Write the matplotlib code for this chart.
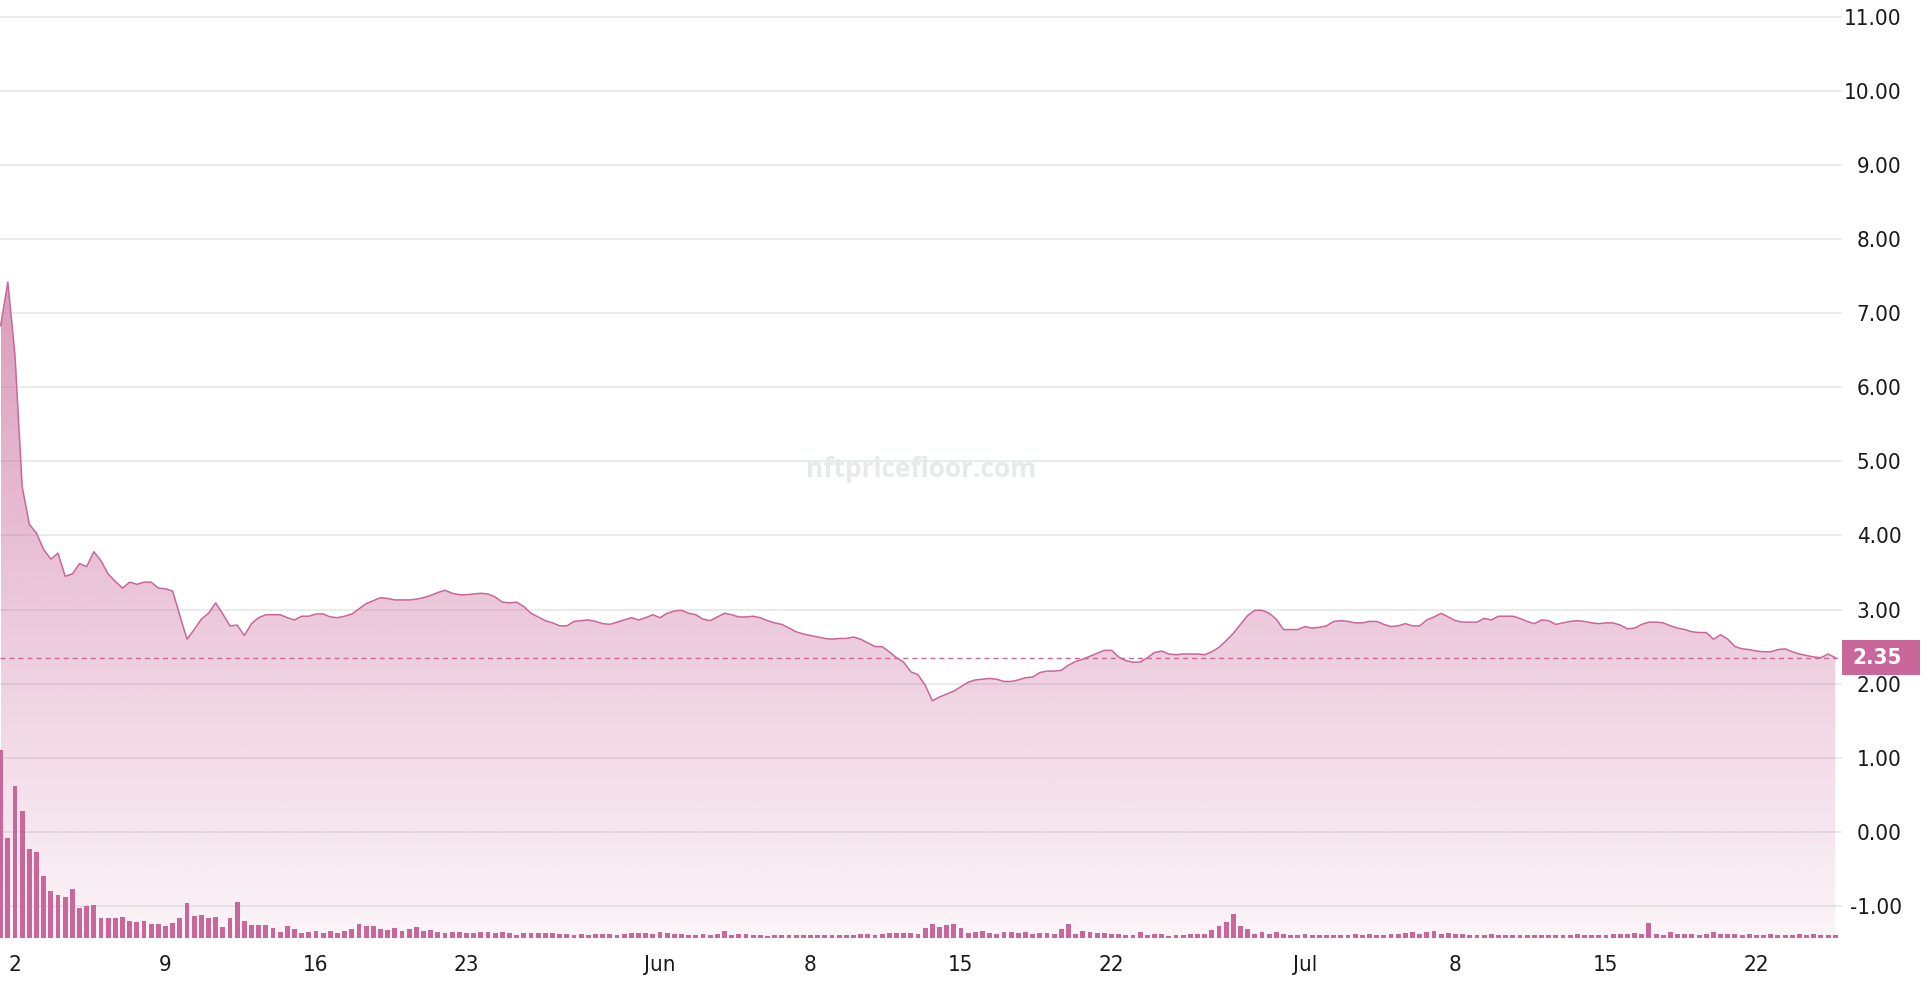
import numpy as np
import pandas as pd
import matplotlib
matplotlib.use('Agg')
import matplotlib.pyplot as plt
import matplotlib.dates as mdates
import matplotlib.transforms as mtransforms
from matplotlib.colors import to_rgb
from matplotlib.patches import Rectangle
from matplotlib.ticker import FixedLocator, FuncFormatter

# floor price, one value every 8 hours
start = '2023-05-01 08:00'
step = '8h'
price = [
    6.83, 7.42, 6.43, 4.66, 4.15, 4.03, 3.81, 3.68, 3.76, 3.45,
    3.48, 3.62, 3.58, 3.78, 3.66, 3.48, 3.38, 3.29, 3.37, 3.34,
    3.37, 3.37, 3.29, 3.28, 3.25, 2.92, 2.60, 2.73, 2.87, 2.95,
    3.09, 2.94, 2.78, 2.79, 2.65, 2.81, 2.89, 2.93, 2.93, 2.93,
    2.89, 2.86, 2.91, 2.91, 2.94, 2.94, 2.90, 2.89, 2.91, 2.94,
    3.01, 3.08, 3.12, 3.16, 3.15, 3.13, 3.13, 3.13, 3.14, 3.16,
    3.19, 3.23, 3.26, 3.22, 3.20, 3.20, 3.21, 3.22, 3.21, 3.17,
    3.10, 3.09, 3.10, 3.04, 2.95, 2.90, 2.85, 2.82, 2.78, 2.78,
    2.84, 2.85, 2.86, 2.84, 2.81, 2.80, 2.83, 2.86, 2.89, 2.86,
    2.89, 2.93, 2.89, 2.95, 2.98, 2.99, 2.95, 2.93, 2.87, 2.85,
    2.90, 2.95, 2.93, 2.90, 2.90, 2.91, 2.89, 2.85, 2.82, 2.80,
    2.75, 2.70, 2.67, 2.65, 2.63, 2.61, 2.60, 2.61, 2.61, 2.63,
    2.60, 2.55, 2.50, 2.50, 2.43, 2.35, 2.29, 2.16, 2.12, 1.98,
    1.77, 1.82, 1.86, 1.90, 1.96, 2.02, 2.05, 2.06, 2.07, 2.06,
    2.03, 2.03, 2.05, 2.08, 2.09, 2.15, 2.17, 2.17, 2.18, 2.25,
    2.30, 2.33, 2.37, 2.41, 2.45, 2.45, 2.36, 2.31, 2.29, 2.29,
    2.35, 2.42, 2.44, 2.40, 2.39, 2.40, 2.40, 2.40, 2.39, 2.43,
    2.49, 2.58, 2.68, 2.80, 2.92, 2.99, 2.99, 2.95, 2.87, 2.73,
    2.73, 2.73, 2.77, 2.75, 2.76, 2.78, 2.84, 2.85, 2.84, 2.82,
    2.82, 2.84, 2.84, 2.80, 2.77, 2.78, 2.81, 2.78, 2.78, 2.86,
    2.90, 2.95, 2.90, 2.85, 2.83, 2.83, 2.83, 2.88, 2.86, 2.91,
    2.91, 2.91, 2.88, 2.84, 2.81, 2.86, 2.85, 2.80, 2.82, 2.84,
    2.85, 2.84, 2.82, 2.81, 2.82, 2.82, 2.79, 2.74, 2.75, 2.80,
    2.83, 2.83, 2.82, 2.78, 2.75, 2.73, 2.70, 2.69, 2.69, 2.60,
    2.66, 2.60, 2.50, 2.47, 2.46, 2.44, 2.43, 2.43, 2.46, 2.47,
    2.43, 2.40, 2.38, 2.36, 2.35, 2.40, 2.35,
]
volume = [
    187, 100, 152, 127, 89, 86, 62, 47, 43, 41,
    49, 30, 32, 33, 20, 20, 20, 21, 17, 16,
    17, 14, 14, 12, 15, 20, 35, 22, 23, 20,
    21, 11, 20, 36, 17, 13, 13, 13, 10, 6,
    12, 9, 5, 6, 7, 5, 7, 5, 7, 9,
    14, 12, 12, 9, 8, 10, 7, 9, 11, 7,
    8, 6, 5, 6, 6, 5, 5, 6, 6, 5,
    6, 5, 3, 5, 5, 5, 5, 5, 4, 4,
    3, 4, 3, 4, 4, 4, 3, 4, 5, 5,
    5, 4, 6, 5, 4, 4, 3, 3, 4, 3,
    4, 7, 3, 4, 4, 3, 3, 2, 3, 3,
    3, 3, 3, 3, 3, 3, 3, 3, 3, 3,
    4, 4, 3, 4, 5, 5, 5, 5, 4, 10,
    14, 11, 13, 14, 10, 5, 6, 7, 5, 4,
    6, 6, 5, 6, 4, 5, 5, 4, 9, 14,
    4, 7, 6, 5, 5, 4, 4, 3, 3, 6,
    3, 4, 4, 2, 3, 3, 4, 4, 4, 8,
    12, 16, 24, 12, 9, 4, 6, 4, 6, 4,
    3, 3, 4, 3, 3, 3, 3, 3, 3, 4,
    3, 4, 3, 3, 4, 4, 5, 6, 4, 6,
    7, 4, 5, 4, 4, 3, 3, 3, 4, 3,
    3, 3, 3, 3, 3, 3, 3, 3, 3, 3,
    4, 3, 3, 3, 3, 4, 4, 4, 5, 4,
    15, 4, 3, 6, 4, 4, 4, 3, 4, 6,
    4, 4, 4, 3, 4, 3, 3, 4, 3, 3,
    3, 4, 3, 4, 3, 3, 3,
]
current_price = 2.35

tick_dates = ['2023-05-02', '2023-05-09', '2023-05-16', '2023-05-23',
              '2023-06-01', '2023-06-08', '2023-06-15', '2023-06-22',
              '2023-07-01', '2023-07-08', '2023-07-15', '2023-07-22']
tick_labels = ['2', '9', '16', '23', 'Jun', '8', '15', '22',
               'Jul', '8', '15', '22']
y_ticks = list(range(-1, 12))

PINK = '#c9679a'
GRID = '#e6eaea'
TEXT = '#191919'

plt.rcParams['font.family'] = ['DejaVu Sans']
plt.rcParams['font.stretch'] = 'condensed'

times = pd.date_range(start, periods=len(price), freq=step)
xs = mdates.date2num(times)

fig = plt.figure(figsize=(19.32, 9.88), dpi=100)
ax = fig.add_axes([0, 0.0506, 0.9534, 0.9494])
# volume bars on their own scale, taking the bottom fifth
ax2 = ax.twinx()

ymin, ymax = -1.432, 11.225
days_per_px = 1 / 21.5
x_left = mdates.date2num(pd.Timestamp(tick_dates[0])) - 15 * days_per_px
x_right = x_left + 1842 * days_per_px

# gradient area under the line
top = max(price)
alpha = np.linspace(0.07, 0.65, 256)
rgba = np.zeros((256, 1, 4))
rgba[..., :3] = to_rgb(PINK)
rgba[..., 3] = alpha[:, None]
im = ax.imshow(rgba, extent=[xs[0], xs[-1], ymin, top], origin='lower',
               aspect='auto', interpolation='bilinear', zorder=1)
area = ax.fill_between(xs, price, ymin, color='none', lw=0)
im.set_clip_path(area.get_paths()[0], ax.transData)

ax.plot(xs, price, color=PINK, lw=1.1, zorder=3, solid_joinstyle='round')
ax.axhline(current_price, color=PINK, lw=1.0, ls=(0, (3.6, 2.9)), zorder=3)

ax.text(0.5, 0.5, 'nftpricefloor.com', transform=ax.transAxes,
        ha='center', va='center', fontsize=19, fontweight='bold',
        color='#e6eaea', family='Open Sans', stretch='normal', zorder=2)

ax.set_xlim(x_left, x_right)
ax.set_ylim(ymin, ymax)

ax.yaxis.set_major_locator(FixedLocator(y_ticks))
ax.yaxis.set_major_formatter(FuncFormatter(lambda v, p: f'{v:.2f}'))
ax.yaxis.tick_right()
ax.tick_params(axis='y', length=0, pad=43, labelsize=16, labelcolor=TEXT,
               labelleft=False, labelright=True)
for tick in ax.yaxis.get_major_ticks():
    tick.label2.set_horizontalalignment('right')

ax.set_xticks(mdates.date2num(pd.to_datetime(tick_dates)))
ax.set_xticklabels(tick_labels)
ax.tick_params(axis='x', length=0, pad=12, labelsize=16, labelcolor=TEXT)

ax.grid(axis='y', color=GRID, lw=1.3)
ax.set_axisbelow(True)
for s in ax.spines.values():
    s.set_visible(False)

ax2.bar(xs, volume, width=0.23, color=PINK, lw=0, zorder=2)
ax2.set_ylim(0, max(volume) / 0.2)
ax2.set_xlim(x_left, x_right)
ax2.set_axis_off()

# current price tag on the axis
trans = mtransforms.blended_transform_factory(ax.transAxes, ax.transData)
box_h = 35 / 74.1
ax.add_patch(Rectangle((1.0, current_price - box_h / 2), 78 / 1842, box_h,
                       transform=trans, facecolor=PINK, edgecolor='none',
                       clip_on=False, zorder=5))
ax.text(1902 / 1842, current_price, f'{current_price:.2f}', transform=trans,
        ha='right', va='center', color='white', fontsize=16,
        fontweight='bold', clip_on=False, zorder=6)

fig.savefig('out.png', dpi=100)
